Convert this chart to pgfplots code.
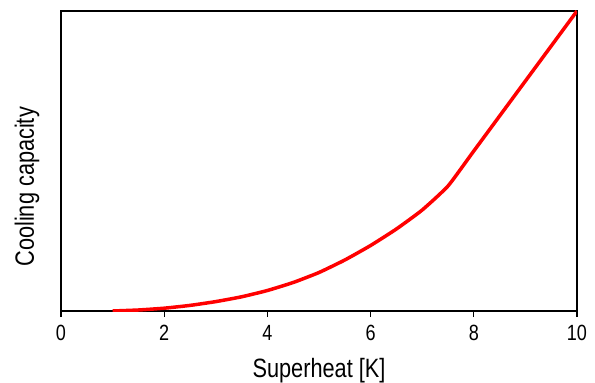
\documentclass[border=0pt]{standalone}
\usepackage{fontspec}
\setmainfont[FakeStretch=0.82]{Liberation Sans}
\usepackage{pgfplots}
\pgfplotsset{compat=1.18}
\begin{document}
\begin{tikzpicture}
\begin{axis}[
  scale only axis, width=516pt, height=300pt,
  xmin=0, xmax=10, ymin=0, ymax=300,
  xtick={0,2,...,10}, ytick=\empty,
  xtick pos=bottom, tick align=outside,
  major tick length=6pt,
  axis line style={line width=1.2pt},
  every tick/.style={black, line width=1.2pt},
  /pgf/number format/assume math mode=true,
  tick label style={font=\fontsize{22}{26}\selectfont},
  xticklabel style={yshift=-5pt},
  label style={font=\fontsize{26.5}{30}\selectfont},
  xlabel={Superheat [K]}, ylabel={Cooling capacity},
  xlabel style={at={(axis description cs:0.5,0)}, anchor=center, yshift=-60pt},
  ylabel style={at={(axis description cs:0,0.414)}, anchor=center, yshift=34pt},
]
\addplot[red, line width=3.5pt, smooth, tension=0.3] coordinates {
(1,0) (1.5,1) (2,2.8) (2.5,5.6) (3,9.4) (3.5,14.2) (4,20.5) (4.5,28.5) (5,38.5) (5.5,51) (6,65.5) (6.5,82) (7,101) (7.5,125) (8,160) (9,230) (10,300)
};
\end{axis}
\pgfresetboundingbox
\useasboundingbox ([xshift=-61pt,yshift=-72pt]current axis.south west) rectangle ([xshift=18pt,yshift=11pt]current axis.north east);
\end{tikzpicture}
\end{document}
